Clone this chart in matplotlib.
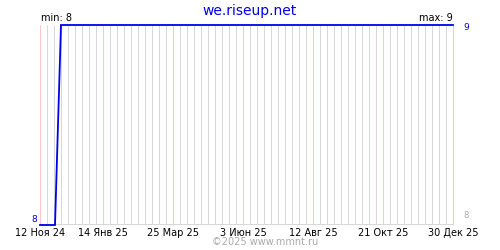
import numpy as np
import pandas as pd
import matplotlib
matplotlib.use('Agg')
import matplotlib.pyplot as plt
import matplotlib.dates as mdates

# ---------------------------------------------------------------------------
# data
dates = pd.to_datetime(['2024-11-12', '2024-11-27', '2024-12-03', '2025-12-30'])
values = [8, 8, 9, 9]

tick_dates = pd.to_datetime(['2024-11-12', '2025-01-14', '2025-03-25', '2025-06-03',
                             '2025-08-12', '2025-10-21', '2025-12-30'])
tick_labels = ['12 Ноя 24', '14 Янв 25', '25 Мар 25', '3 Июн 25',
               '12 Авг 25', '21 Окт 25', '30 Дек 25']

title = 'we.riseup.net'
v_min, v_max = 8, 9

# weekly grid (the labelled dates get a pink line instead)
week_dates = pd.date_range('2024-11-12', '2025-12-30', freq='7D')
week_dates = week_dates[~week_dates.isin(tick_dates)]

# ---------------------------------------------------------------------------
fig = plt.figure(figsize=(5, 2.5), dpi=100)
ax = fig.add_axes([0.08, 0.1, 0.826, 0.8])

px = 72.0 / fig.dpi  # one pixel in points

ax.vlines(week_dates, v_min, v_max, colors='#d8d8d8', lw=px, zorder=1, snap=True)
ax.vlines(tick_dates, v_min, v_max, colors='#ffc4c4', lw=px, zorder=2, snap=True,
          clip_on=False)
ax.axhline(v_min, color='#d8d8d8', lw=2 * px, zorder=2, snap=True)

ax.plot(dates, values, color='#0000ee', lw=1.3, zorder=3, clip_on=False,
        solid_joinstyle='miter')

ax.set_xlim(tick_dates[0], tick_dates[-1])
ax.set_ylim(v_min, v_max)
for s in ax.spines.values():
    s.set_visible(False)

ax.set_xticks(tick_dates)
ax.set_xticklabels(tick_labels, fontsize=7)
ax.tick_params(axis='x', length=0, pad=2)
ax.set_yticks([])

fig.text(0.5, 0.955, title, ha='center', va='center', color='#0000ee', fontsize=10)
ax.text(0.002, 1.01, 'min: %d' % v_min, transform=ax.transAxes, ha='left', va='bottom',
        fontsize=7, color='black')
ax.text(1.0, 1.01, 'max: %d' % v_max, transform=ax.transAxes, ha='right', va='bottom',
        fontsize=7, color='black')
ax.text(1.025, 0.985, str(v_max), transform=ax.transAxes, ha='left', va='center',
        fontsize=6.5, color='#0000dd')
ax.text(-0.008, 0.003, str(v_min), transform=ax.transAxes, ha='right', va='bottom',
        fontsize=6.5, color='#0000dd')
ax.text(1.025, 0.045, str(v_min), transform=ax.transAxes, ha='left', va='center',
        fontsize=6, color='#aaaaaa')
fig.text(0.53, 0.032, '©2025 www.mmnt.ru', ha='center', va='center',
         fontsize=7, color='#aaaaaa')

fig.savefig('out.png', dpi=100)
